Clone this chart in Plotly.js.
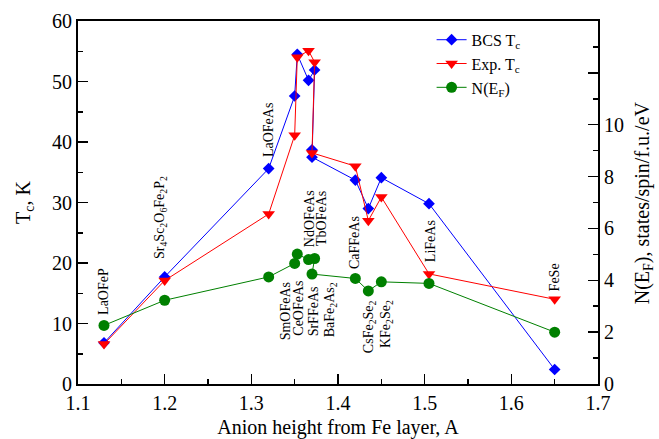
<!DOCTYPE html>
<html>
<head>
<meta charset="utf-8">
<script src="https://cdn.plot.ly/plotly-3.0.1.min.js"></script>
<style>html,body{margin:0;padding:0;background:#fff;}#chart{width:659px;height:439px;}</style>
</head>
<body>
<div id="chart"></div>
<script>
// Materials (label order along the curves)
const materials = ['LaOFeP', 'Sr<sub>4</sub>Sc<sub>2</sub>O<sub>6</sub>Fe<sub>2</sub>P<sub>2</sub>', 'LaOFeAs',
  'CeOFeAs', 'SmOFeAs', 'NdOFeAs', 'TbOFeAs', 'SrFFeAs', 'BaFe<sub>2</sub>As<sub>2</sub>',
  'CaFFeAs', 'CsFe<sub>2</sub>Se<sub>2</sub>', 'KFe<sub>2</sub>Se<sub>2</sub>', 'LiFeAs', 'FeSe'];
// Anion height from Fe layer, A
const anionHeight = [1.13, 1.20, 1.32, 1.350, 1.353, 1.366, 1.373, 1.370, 1.370, 1.42, 1.435, 1.45, 1.505, 1.65];
// BCS Tc, K
const bcsTc = [6.8, 17.7, 35.6, 47.6, 54.5, 50.2, 51.9, 38.7, 37.5, 33.7, 29.0, 34.1, 29.8, 2.4];
// Experimental Tc, K
const expTc = [6.6, 17.1, 28.1, 41.1, 54.0, 55.1, 53.2, null, 38.2, 36.0, 27.0, 30.9, 18.2, 14.0];
// N(E_F), states/spin/f.u./eV
const nEF = [2.26, 3.23, 4.13, 4.65, 5.01, 4.80, 4.84, null, 4.24, 4.07, 3.59, 3.94, 3.88, 2.00];

// Label placement (text centres, in data units of x and left y axis)
const labelX = [1.1294, 1.1946, 1.3192, 1.3542, 1.3388, 1.3665, 1.3812, 1.3711, 1.3908, 1.4185, 1.4358, 1.4562, 1.5061, 1.6498];
const labelY = [15.3, 27.6, 41.96, 12.5, 12.0, 27.4, 27.4, 12.0, 12.2, 23.3, 9.4, 9.85, 23.6, 17.7];

// Axis tick values
const xTickStep = 0.1;
const leftTickStep = 10;
const rightTickVals = [0, 2, 4, 6, 8, 10, 12];
const rightTickText = ['0', '2', '4', '6', '8', '10', ''];
const rightMinorVals = [1, 3, 5, 7, 9, 11, 13];
const rightTitle = 'N(E<sub>F</sub>), states/spin/f.u./eV';

const FONT = '"Liberation Serif", "Times New Roman", Times, serif';

const traces = [
  {x: anionHeight, y: bcsTc, name: 'BCS T<sub>c</sub>', type: 'scatter', mode: 'lines+markers',
   line: {color: '#0000ff', width: 1}, marker: {symbol: 'diamond', size: 9, color: '#0000ff'},
   connectgaps: true, yaxis: 'y'},
  {x: anionHeight, y: expTc, name: 'Exp. T<sub>c</sub>', type: 'scatter', mode: 'lines+markers',
   line: {color: '#ff0000', width: 1}, marker: {symbol: 'triangle-down', size: 11, color: '#ff0000'},
   connectgaps: true, yaxis: 'y'},
  {x: anionHeight, y: nEF, name: 'N(E<sub>F</sub>)', type: 'scatter', mode: 'lines+markers',
   line: {color: '#008000', width: 1}, marker: {symbol: 'circle', size: 11, color: '#008000'},
   connectgaps: true, yaxis: 'y2'}
];

const annotations = materials.map((m, i) => ({
  x: labelX[i], y: labelY[i], xref: 'x', yref: 'y', text: m, showarrow: false,
  textangle: -90, xanchor: 'center', yanchor: 'middle',
  font: {family: FONT, size: 14, color: 'black'}
}));
// right axis title (placed as a rotated text in the right margin)
annotations.push({
  x: 1.088, y: 0.5, xref: 'paper', yref: 'paper', text: rightTitle, showarrow: false,
  textangle: -90, xanchor: 'center', yanchor: 'middle',
  font: {family: FONT, size: 20, color: 'black'}
});

const axisCommon = {
  showline: true, linewidth: 2, linecolor: 'black', showgrid: false, zeroline: false,
  ticks: 'inside', ticklen: 10, tickwidth: 1.5, tickcolor: 'black',
  tickfont: {family: FONT, size: 20, color: 'black'}
};

const layout = {
  width: 659, height: 439,
  margin: {l: 78, r: 61, t: 21, b: 55, pad: 0},
  paper_bgcolor: 'white', plot_bgcolor: 'white',
  font: {family: FONT, size: 20, color: 'black'},
  showlegend: true,
  legend: {x: 0.68, y: 0.995, xanchor: 'left', yanchor: 'top', bgcolor: 'rgba(0,0,0,0)',
           font: {family: FONT, size: 16, color: 'black'}, itemwidth: 30, tracegroupgap: 0},
  xaxis: Object.assign({}, axisCommon, {
    range: [1.1, 1.7], tick0: 1.1, dtick: xTickStep, tickformat: '.1f', mirror: true,
    minor: {dtick: xTickStep / 2, ticks: 'inside', ticklen: 5, tickwidth: 1.5, tickcolor: 'black', showgrid: false},
    title: {text: 'Anion height from Fe layer, A', font: {family: FONT, size: 20}, standoff: 11}
  }),
  yaxis: Object.assign({}, axisCommon, {
    range: [0, 60], tick0: 0, dtick: leftTickStep,
    minor: {dtick: leftTickStep / 2, ticks: 'inside', ticklen: 5, tickwidth: 1.5, tickcolor: 'black', showgrid: false},
    title: {text: 'T<sub>c</sub>, K', font: {family: FONT, size: 20}, standoff: 16}
  }),
  yaxis2: Object.assign({}, axisCommon, {
    overlaying: 'y', side: 'right', range: [0, 14],
    tickmode: 'array', tickvals: rightTickVals, ticktext: rightTickText,
    minor: {tickmode: 'array', tickvals: rightMinorVals, ticks: 'inside', ticklen: 5, tickwidth: 1.5, tickcolor: 'black', showgrid: false}
  }),
  annotations: annotations
};

Plotly.newPlot('chart', traces, layout, {displayModeBar: false, staticPlot: true});
</script>
</body>
</html>
